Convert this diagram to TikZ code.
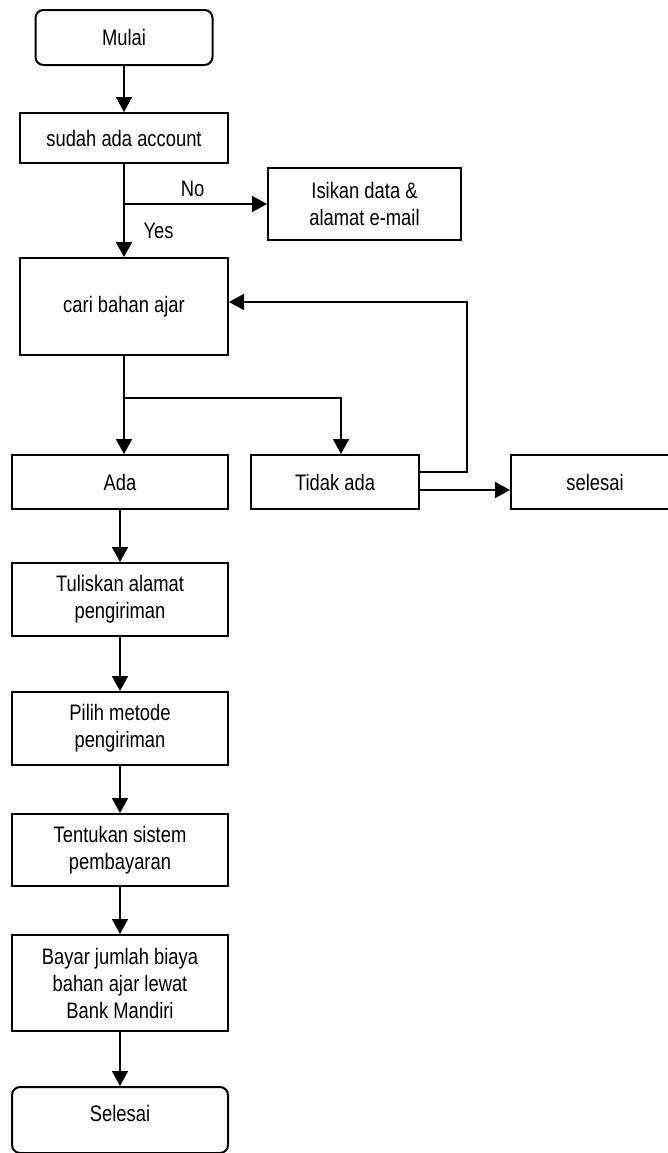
\documentclass[tikz,border=0pt]{standalone}
\usepackage{fontspec}
\setmainfont{Liberation Sans}[FakeStretch=0.82]
\usetikzlibrary{positioning,arrows.meta}

\begin{document}
\begin{tikzpicture}[x=0.5pt,y=-0.5pt,font=\fontsize{11.2}{13.5}\selectfont,
	box/.style={rectangle,draw,line width=1pt,align=center,inner sep=3pt},
	term/.style={box,rounded corners=4pt},
	arrow/.style={draw=black, line width=0.9pt, -{Triangle[length=7.5pt,width=8pt]}}]
	\useasboundingbox (0,0) rectangle (668,1153);
	\node[term,minimum width=88.5pt,minimum height=27.5pt] (mulai) at (124,37.5) {Mulai};
	\node[box,minimum width=104pt,minimum height=25pt] (account) at (124,138) {sudah ada account};
	\node[box,minimum width=96.5pt,minimum height=36pt] (isikan) at (364.5,204) {Isikan data \&\\alamat e-mail};
	\node[box,minimum width=104pt,minimum height=48.5pt] (cari) at (124,306.5) {cari bahan ajar};
	\node[box,minimum width=108pt,minimum height=27pt] (ada) at (120,482) {Ada};
	\node[box,minimum width=84pt,minimum height=27pt] (tidak) at (335,482) {Tidak ada};
	\node[box,minimum width=84pt,minimum height=27pt] (selesai) at (595,482) {selesai};
	\node[box,minimum width=108pt,minimum height=36.5pt] (tulis) at (120,599.5) {Tuliskan alamat\\pengiriman};
	\node[box,minimum width=108pt,minimum height=36.5pt] (pilih) at (120,728.5) {Pilih metode\\pengiriman};
	\node[box,minimum width=108pt,minimum height=36pt] (tentukan) at (120,850) {Tentukan sistem\\pembayaran};
	\node[box,minimum width=108pt,minimum height=48pt] (bayar) at (120,983) {Bayar jumlah biaya\\bahan ajar lewat\\Bank Mandiri};
	\node[term,minimum width=108pt,text height=14pt,text depth=13pt,anchor=north] (akhir) at (120,1086) {Selesai};

	\coordinate (split1) at (account.south |- isikan.west);
	\coordinate (split2) at (124,398);
	\coordinate (back) at (467,302);

	\draw[arrow] (mulai.south) -- (account.north);
	\draw[arrow] (account.south) -- (cari.north) node[pos=0.72,right=6pt] (yes) {Yes};
	\draw[arrow] (split1) -- node[above,pos=0.48] (no) {No} (isikan.west);
	\draw[arrow] (cari.south) -- (split2) -- (split2 |- ada.north);
	\draw[arrow] (split2) -| ([xshift=3pt]tidak.north);
	\draw[arrow] ([yshift=5pt]tidak.east) -| (back) -- (back -| cari.east);
	\draw[arrow] ([yshift=-4pt]tidak.east) -- ([yshift=-4pt]selesai.west);
	\draw[arrow] (ada) -- (tulis);
	\draw[arrow] (tulis) -- (pilih);
	\draw[arrow] (pilih) -- (tentukan);
	\draw[arrow] (tentukan) -- (bayar);
	\draw[arrow] (bayar) -- (akhir);
\end{tikzpicture}
\end{document}
